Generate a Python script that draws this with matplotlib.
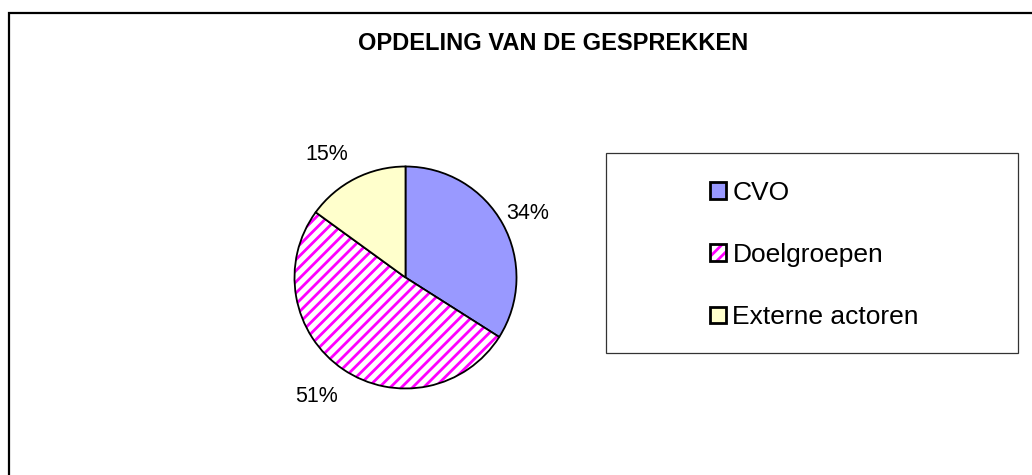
import matplotlib
matplotlib.use("Agg")
import numpy as np
import matplotlib.pyplot as plt
from matplotlib.patches import Rectangle
from matplotlib.colors import to_rgba

plt.rcParams['font.family'] = ['Liberation Sans', 'DejaVu Sans']
plt.rcParams['hatch.linewidth'] = 2.0

title = "OPDELING VAN DE GESPREKKEN"
categories = ["CVO", "Doelgroepen", "Externe actoren"]
values = [34, 51, 15]
colors = ["#9999FF", "#FFFFFF", "#FFFFCC"]
hatches = [None, "///", None]
# label placement style (distance in radii, angular nudge in degrees)
label_dist = [1.24, 1.34, 1.32]
label_nudge = [-1.0, -2.5, 5.6]

W, H = 1032, 475
fig = plt.figure(figsize=(W / 100, H / 100), dpi=100)

def fx(px):
    return px / W

def fy(py):
    return 1 - py / H

# outer border (runs off the right and bottom edges)
fig.patches.append(Rectangle((fx(9), fy(2000)), 2.0, fy(12.5) - fy(2000),
                             transform=fig.transFigure, fill=False,
                             edgecolor="#000000", linewidth=1.6, zorder=0))

# pie axes
cx, cy, R = 405.5, 277.5, 111.0
lim = 1.6
half = lim * R
ax = fig.add_axes([fx(cx - half), fy(cy + half), 2 * half / W, 2 * half / H])

wedges, texts, autotexts = ax.pie(
    values, colors=colors, startangle=90, counterclock=False,
    autopct=lambda p: f"{p:.0f}%", pctdistance=1.28,
    wedgeprops=dict(edgecolor="black", linewidth=1.3),
    textprops=dict(fontsize=15.5, color="black"))

for w, h in zip(wedges, hatches):
    if h:
        w.set_hatch(h)
        w._hatch_color = to_rgba("#FF00FF")

for w, t, d, n in zip(wedges, autotexts, label_dist, label_nudge):
    mid = np.deg2rad((w.theta1 + w.theta2) / 2 + n)
    t.set_position((d * np.cos(mid), d * np.sin(mid)))

ax.set_xlim(-lim, lim)
ax.set_ylim(-lim, lim)
ax.set_aspect("equal")
ax.axis("off")

fig.text(fx(553), fy(43.5), title, ha="center", va="center",
         fontsize=17, fontweight="bold")

# legend frame
fig.patches.append(Rectangle((fx(605.5), fy(352.5)), (1018 - 605.5) / W,
                             (352.5 - 153) / H, transform=fig.transFigure,
                             fill=False, edgecolor="#333333", linewidth=0.9))

leg = fig.legend(wedges, categories, loc="center left",
                 bbox_to_anchor=(fx(710), fy(255)), frameon=False,
                 fontsize=19, handlelength=0.6, handleheight=0.6,
                 handletextpad=0.25, labelspacing=1.45, borderpad=0,
                 borderaxespad=0)
for p in leg.get_patches():
    p.set_linewidth(2.0)
    p.set_edgecolor("black")
leg.get_patches()[1]._hatch_color = to_rgba("#FF00FF")

fig.savefig("out.png", dpi=100)
